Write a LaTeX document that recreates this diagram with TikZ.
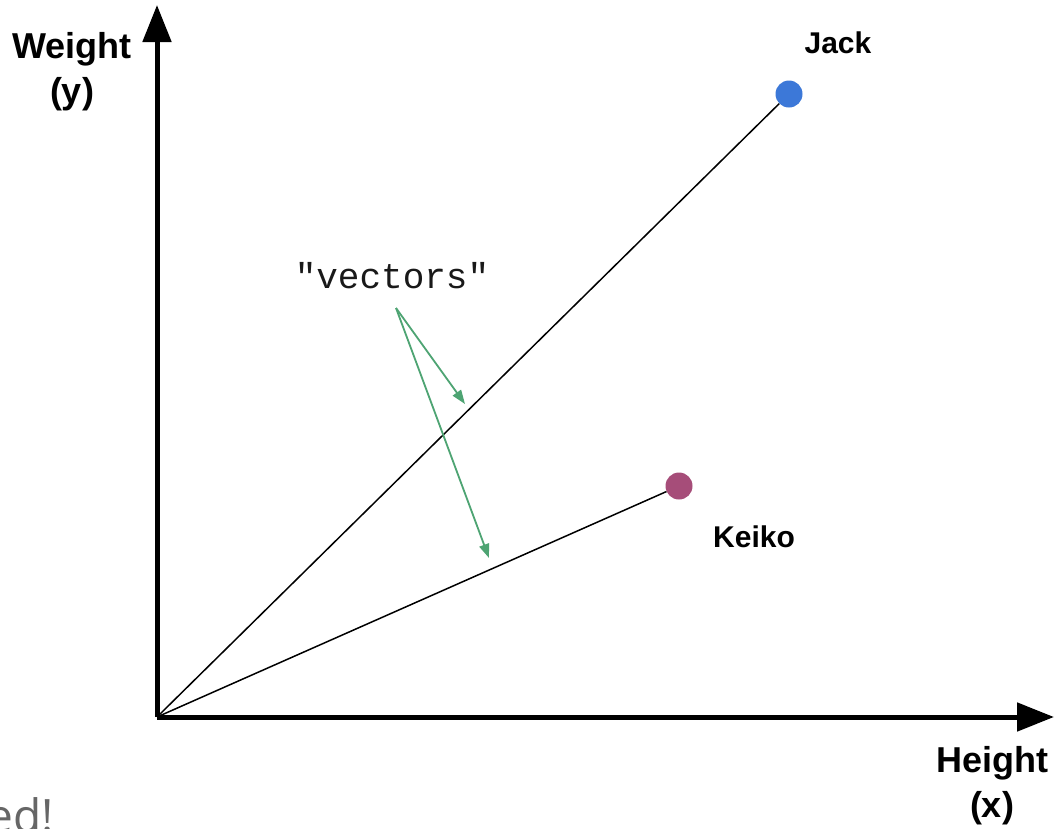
\documentclass[tikz,border=0pt]{standalone}
\usepackage{fontspec}
\setmainfont{Liberation Sans}
\newfontfamily\monof{Liberation Mono}
\newfontfamily\opensans{Open Sans}
\usetikzlibrary{arrows.meta}
\definecolor{jackblue}{HTML}{3C78D8}
\definecolor{keikopink}{HTML}{A64D79}
\definecolor{vecgreen}{HTML}{4EA473}
\definecolor{fadegray}{HTML}{666666}
\begin{document}
\begin{tikzpicture}[x=1pt,y=-1pt,
  axisline/.style={line width=5pt,-{Triangle[length=37pt,width=28pt]}},
  vecline/.style={line width=1.5pt,black},
  pointer/.style={line width=1.8pt,vecgreen,-{Triangle[length=14pt,width=10pt]}},
  dot/.style={circle,inner sep=0pt,minimum size=27pt},
  axislabel/.style={font=\bfseries\fontsize{36}{45}\selectfont,align=center,inner sep=0pt},
  namelabel/.style={font=\bfseries\fontsize{30}{36}\selectfont,inner sep=0pt}]
\useasboundingbox (0,0) rectangle (1058,828);
\fill[white] (0,0) rectangle (1058,828);
\coordinate (O) at (157,717);
\coordinate (ytip) at (157,5);
\coordinate (xtip) at (1054,717);
\node[dot,fill=jackblue] (jack) at (789,94) {};
\node[dot,fill=keikopink] (keiko) at (679,486) {};
\draw[vecline] (O) -- (jack);
\draw[vecline] (O) -- (keiko);
\draw[axisline] (O) -- (ytip);
\draw[axisline] (O) -- (xtip);
\node[axislabel,anchor=north] (wlabel) at (72,32) {Weight\\(y)};
\node[axislabel,anchor=north] (hlabel) at (992,746) {Height\\(x)};
\node[namelabel] (jlabel) at (838,43) {Jack};
\node[namelabel] (klabel) at (754,537) {Keiko};
\node[font=\monof\fontsize{36}{36}\selectfont,text=black!90,inner sep=0pt] (vlabel) at (392,276) {"vectors"};
\coordinate (vs) at (396,308);
\coordinate (e1) at (465,404);
\coordinate (e2) at (489,558);
\draw[pointer] (vs) -- (e1);
\draw[pointer] (vs) -- (e2);
\node[font=\opensans\fontsize{46}{46}\selectfont,text=fadegray,anchor=base east,inner sep=0pt] (cut) at (54,832) {ed!};
\end{tikzpicture}
\end{document}
